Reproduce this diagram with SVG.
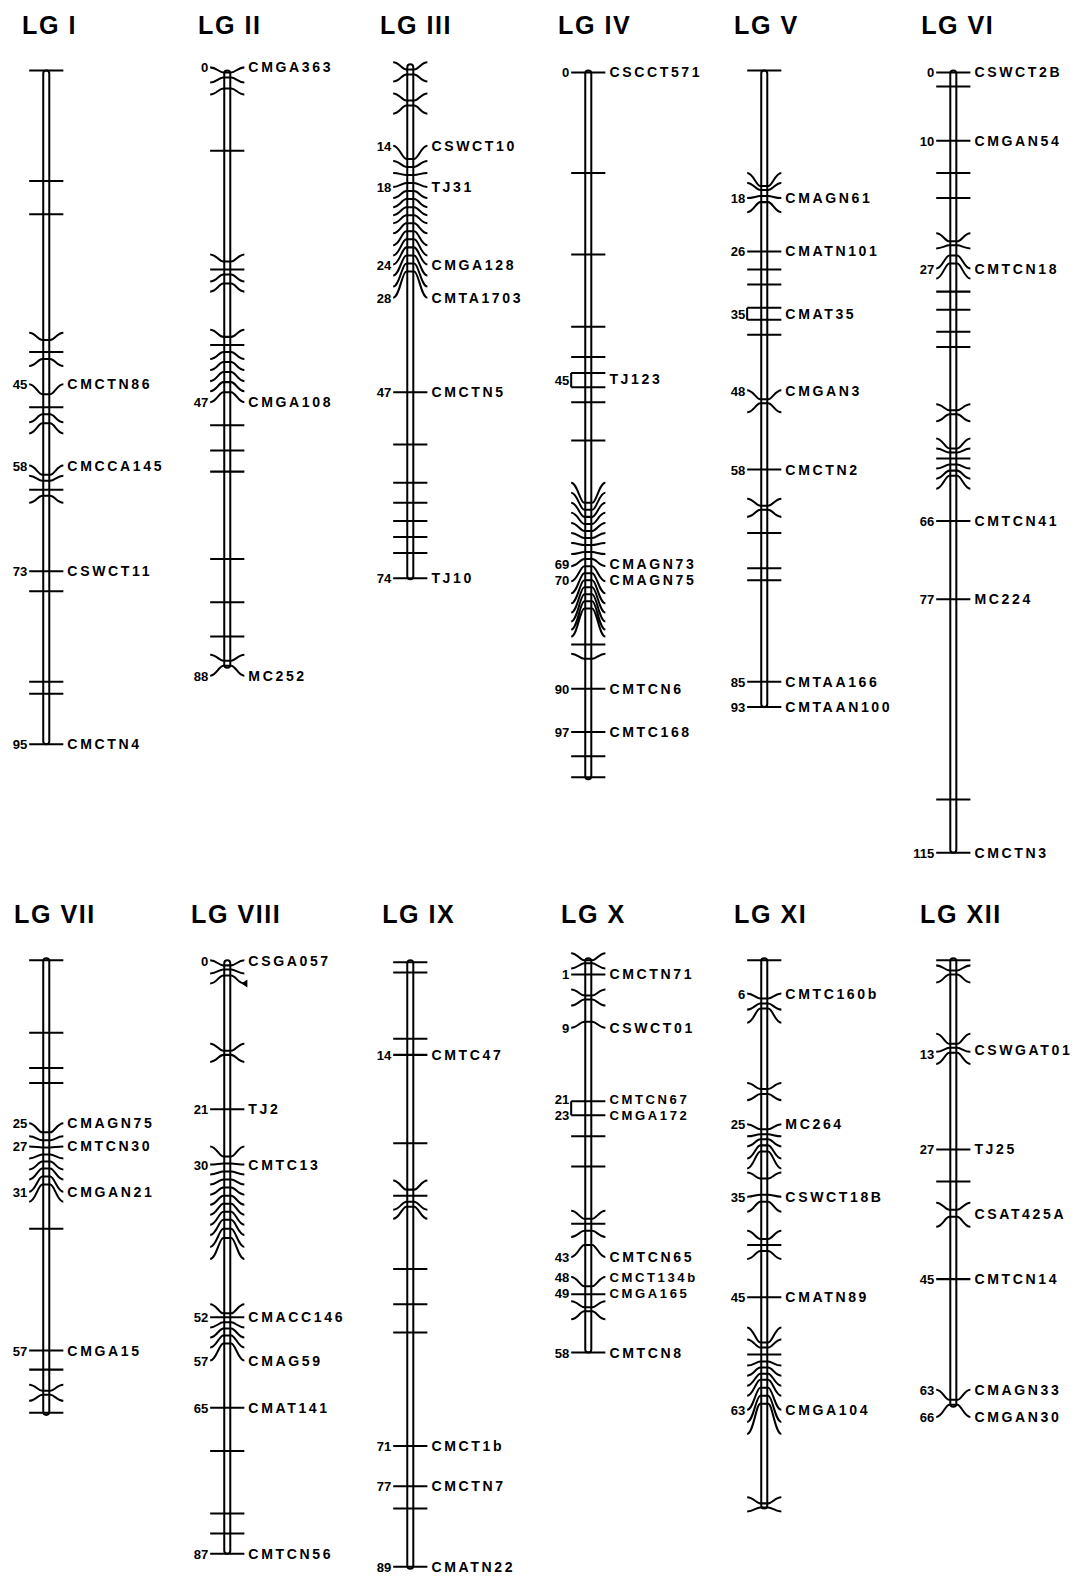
<svg xmlns="http://www.w3.org/2000/svg" width="1077" height="1577" viewBox="0 0 1077 1577">
<style>
.bar{fill:#fff;stroke:#000;stroke-width:2}
.t{fill:none;stroke:#000;stroke-width:2}
.n{font-family:"Liberation Sans",Arial,sans-serif;font-weight:bold;font-size:14px;letter-spacing:2.6px;fill:#000}
.s{font-size:13px}
.c{font-family:"Liberation Sans",Arial,sans-serif;font-weight:bold;font-size:13px;text-anchor:end;fill:#000}
.h{font-family:"Liberation Sans",Arial,sans-serif;font-weight:bold;font-size:25px;letter-spacing:1.5px;fill:#000}
</style>
<rect width="1077" height="1577" fill="#fff"/>
<g transform="scale(1.0056)">
<g id="titles">
<text class="h" x="22" y="34">LG I</text>
<text class="h" x="197" y="34">LG II</text>
<text class="h" x="378" y="34">LG III</text>
<text class="h" x="555" y="34">LG IV</text>
<text class="h" x="730" y="34">LG V</text>
<text class="h" x="916" y="34">LG VI</text>
<text class="h" x="14" y="918">LG VII</text>
<text class="h" x="190" y="918">LG VIII</text>
<text class="h" x="380" y="918">LG IX</text>
<text class="h" x="558" y="918">LG X</text>
<text class="h" x="730" y="918">LG XI</text>
<text class="h" x="915" y="918">LG XII</text>
</g>

<g id="lg1" transform="translate(46,0)">
<rect class="bar" x="-3" y="70" width="6" height="670" rx="3"/>
<path class="t" d="M-17 70H17M-17 180H17M-17 213H17
M-17 331C-11 331 -8 338 -4 338H4C8 338 11 331 17 331M-17 350H17
M-17 364C-11 364 -8 357 -4 357H4C8 357 11 364 17 364
M-17 382C-11 382 -8 392 -4 392H4C8 392 11 382 17 382M-17 405H17
M-17 420C-11 420 -8 412 -4 412H4C8 412 11 420 17 420
M-17 431C-11 431 -8 421 -4 421H4C8 421 11 431 17 431
M-17 463C-11 463 -8 472 -4 472H4C8 472 11 463 17 463
M-17 473C-11 473 -8 478 -4 478H4C8 478 11 473 17 473M-17 487H17
M-17 500C-11 500 -8 493 -4 493H4C8 493 11 500 17 500
M-17 568H17M-17 588H17M-17 678H17M-17 690H17M-17 740H17"/>
<text class="c" x="-19" y="387">45</text><text class="n" x="21" y="387">CMCTN86</text>
<text class="c" x="-19" y="468">58</text><text class="n" x="21" y="468">CMCCA145</text>
<text class="c" x="-19" y="573">73</text><text class="n" x="21" y="573">CSWCT11</text>
<text class="c" x="-19" y="745">95</text><text class="n" x="21" y="745">CMCTN4</text>
</g>

<g id="lg2" transform="translate(226,0)">
<rect class="bar" x="-3" y="70" width="6" height="594" rx="3"/>
<path class="t" d="M-17 67C-11 67 -8 72 -4 72H4C8 72 11 67 17 67
M-17 82C-11 82 -8 77 -4 77H4C8 77 11 82 17 82
M-17 94C-11 94 -8 88 -4 88H4C8 88 11 94 17 94M-17 150H17
M-17 253C-11 253 -8 260 -4 260H4C8 260 11 253 17 253M-17 268H17
M-17 280C-11 280 -8 273 -4 273H4C8 273 11 280 17 280
M-17 290C-11 290 -8 282 -4 282H4C8 282 11 290 17 290
M-17 328C-11 328 -8 335 -4 335H4C8 335 11 328 17 328M-17 343H17
M-17 357C-11 357 -8 350 -4 350H4C8 350 11 357 17 357
M-17 368C-11 368 -8 360 -4 360H4C8 360 11 368 17 368
M-17 379C-11 379 -8 370 -4 370H4C8 370 11 379 17 379
M-17 389C-11 389 -8 380 -4 380H4C8 380 11 389 17 389
M-17 400C-11 400 -8 390 -4 390H4C8 390 11 400 17 400
M-17 423H17M-17 448H17M-17 469H17M-17 556H17M-17 599H17M-17 633H17
M-17 651C-11 651 -8 657 -4 657H4C8 657 11 651 17 651
M-17 672C-11 672 -8 662 -4 662H4C8 662 11 672 17 672"/>
<text class="c" x="-19" y="72">0</text><text class="n" x="21" y="72">CMGA363</text>
<text class="c" x="-19" y="405">47</text><text class="n" x="21" y="405">CMGA108</text>
<text class="c" x="-19" y="677">88</text><text class="n" x="21" y="677">MC252</text>
</g>

<g id="lg3" transform="translate(408,0)">
<rect class="bar" x="-3" y="64" width="6" height="512" rx="3"/>
<path class="t" d="M-17 62C-11 62 -8 69 -4 69H4C8 69 11 62 17 62
M-17 81C-11 81 -8 74 -4 74H4C8 74 11 81 17 81
M-17 93C-11 93 -8 100 -4 100H4C8 100 11 93 17 93
M-17 113C-11 113 -8 105 -4 105H4C8 105 11 113 17 113
M-17 145C-11 145 -8 158 -4 158H4C8 158 11 145 17 145
M-17 160C-11 160 -8 166 -4 166H4C8 166 11 160 17 160
M-17 172C-11 172 -8 174 -4 174H4C8 174 11 172 17 172
M-17 186C-11 186 -8 182 -4 182H4C8 182 11 186 17 186
M-17 197C-11 197 -8 190 -4 190H4C8 190 11 197 17 197
M-17 206C-11 206 -8 198 -4 198H4C8 198 11 206 17 206
M-17 214C-11 214 -8 206 -4 206H4C8 206 11 214 17 214
M-17 222C-11 222 -8 214 -4 214H4C8 214 11 222 17 222
M-17 232C-11 232 -8 222 -4 222H4C8 222 11 232 17 232
M-17 244C-11 244 -8 230 -4 230H4C8 230 11 244 17 244
M-17 254C-11 254 -8 238 -4 238H4C8 238 11 254 17 254
M-17 263C-11 263 -8 246 -4 246H4C8 246 11 263 17 263
M-17 274C-11 274 -8 254 -4 254H4C8 254 11 274 17 274
M-17 285C-11 285 -8 262 -4 262H4C8 262 11 285 17 285
M-17 296C-11 296 -8 270 -4 270H4C8 270 11 296 17 296
M-17 390H17M-17 442H17M-17 480H17M-17 500H17M-17 518H17M-17 534H17M-17 550H17M-17 575H17"/>
<text class="c" x="-19" y="150">14</text><text class="n" x="21" y="150">CSWCT10</text>
<text class="c" x="-19" y="191">18</text><text class="n" x="21" y="191">TJ31</text>
<text class="c" x="-19" y="268">24</text><text class="n" x="21" y="268">CMGA128</text>
<text class="c" x="-19" y="301">28</text><text class="n" x="21" y="301">CMTA1703</text>
<text class="c" x="-19" y="395">47</text><text class="n" x="21" y="395">CMCTN5</text>
<text class="c" x="-19" y="580">74</text><text class="n" x="21" y="580">TJ10</text>
</g>

<g id="lg4" transform="translate(585,0)">
<rect class="bar" x="-3" y="70" width="6" height="705" rx="3"/>
<path class="t" d="M-17 72H17M-17 172H17M-17 253H17M-17 325H17M-17 355H17
M-17 371H17M-17 385H17M-17 371V385M-17 400H17M-17 438H17
M-17 480C-11 480 -8 500 -4 500H4C8 500 11 480 17 480
M-17 490C-11 490 -8 507 -4 507H4C8 507 11 490 17 490
M-17 500C-11 500 -8 514 -4 514H4C8 514 11 500 17 500
M-17 510C-11 510 -8 521 -4 521H4C8 521 11 510 17 510
M-17 520C-11 520 -8 528 -4 528H4C8 528 11 520 17 520
M-17 530C-11 530 -8 535 -4 535H4C8 535 11 530 17 530
M-17 540C-11 540 -8 542 -4 542H4C8 542 11 540 17 540
M-17 551C-11 551 -8 549 -4 549H4C8 549 11 551 17 551
M-17 563C-11 563 -8 556 -4 556H4C8 556 11 563 17 563
M-17 578C-11 578 -8 563 -4 563H4C8 563 11 578 17 578
M-17 590C-11 590 -8 570 -4 570H4C8 570 11 590 17 590
M-17 600C-11 600 -8 577 -4 577H4C8 577 11 600 17 600
M-17 609C-11 609 -8 584 -4 584H4C8 584 11 609 17 609
M-17 618C-11 618 -8 591 -4 591H4C8 591 11 618 17 618
M-17 626C-11 626 -8 598 -4 598H4C8 598 11 626 17 626
M-17 633C-11 633 -8 605 -4 605H4C8 605 11 633 17 633
M-17 641H17M-17 650C-11 650 -8 655 -4 655H4C8 655 11 650 17 650
M-17 685H17M-17 728H17M-17 752H17M-17 773H17"/>
<text class="c" x="-19" y="77">0</text><text class="n" x="21" y="77">CSCCT571</text>
<text class="c" x="-19" y="383">45</text><text class="n" x="21" y="382">TJ123</text>
<text class="c" x="-19" y="566">69</text><text class="n" x="21" y="566">CMAGN73</text>
<text class="c" x="-19" y="582">70</text><text class="n" x="21" y="582">CMAGN75</text>
<text class="c" x="-19" y="690">90</text><text class="n" x="21" y="690">CMTCN6</text>
<text class="c" x="-19" y="733">97</text><text class="n" x="21" y="733">CMTC168</text>
</g>

<g id="lg5" transform="translate(760,0)">
<rect class="bar" x="-3" y="70" width="6" height="633" rx="3"/>
<path class="t" d="M-17 70H17
M-17 172C-11 172 -8 185 -4 185H4C8 185 11 172 17 172
M-17 182C-11 182 -8 189 -4 189H4C8 189 11 182 17 182
M-17 197C-11 197 -8 195 -4 195H4C8 195 11 197 17 197
M-17 211C-11 211 -8 201 -4 201H4C8 201 11 211 17 211
M-17 250H17M-17 268H17M-17 283H17M-17 306H17M-17 318H17M-17 306V318M-17 333H17
M-17 388C-11 388 -8 397 -4 397H4C8 397 11 388 17 388
M-17 410C-11 410 -8 401 -4 401H4C8 401 11 410 17 410
M-17 467H17
M-17 496C-11 496 -8 503 -4 503H4C8 503 11 496 17 496
M-17 514C-11 514 -8 507 -4 507H4C8 507 11 514 17 514
M-17 530H17M-17 565H17M-17 577H17M-17 678H17M-17 703H17"/>
<text class="c" x="-19" y="202">18</text><text class="n" x="21" y="202">CMAGN61</text>
<text class="c" x="-19" y="255">26</text><text class="n" x="21" y="255">CMATN101</text>
<text class="c" x="-19" y="317">35</text><text class="n" x="21" y="317">CMAT35</text>
<text class="c" x="-19" y="394">48</text><text class="n" x="21" y="394">CMGAN3</text>
<text class="c" x="-19" y="472">58</text><text class="n" x="21" y="472">CMCTN2</text>
<text class="c" x="-19" y="683">85</text><text class="n" x="21" y="683">CMTAA166</text>
<text class="c" x="-19" y="708">93</text><text class="n" x="21" y="708">CMTAAN100</text>
</g>

<g id="lg6" transform="translate(948,0)">
<rect class="bar" x="-3" y="70" width="6" height="778" rx="3"/>
<path class="t" d="M-17 72H17M-17 86H17M-17 140H17M-17 172H17M-17 197H17
M-17 232C-11 232 -8 240 -4 240H4C8 240 11 232 17 232
M-17 247C-11 247 -8 244 -4 244H4C8 244 11 247 17 247
M-17 267C-11 267 -8 254 -4 254H4C8 254 11 267 17 267
M-17 277C-11 277 -8 262 -4 262H4C8 262 11 277 17 277
M-17 290H17M-17 308H17M-17 330H17M-17 345H17
M-17 402C-11 402 -8 408 -4 408H4C8 408 11 402 17 402
M-17 419C-11 419 -8 412 -4 412H4C8 412 11 419 17 419
M-17 436C-11 436 -8 446 -4 446H4C8 446 11 436 17 436
M-17 446C-11 446 -8 450 -4 450H4C8 450 11 446 17 446M-17 456H17
M-17 466C-11 466 -8 462 -4 462H4C8 462 11 466 17 466
M-17 476C-11 476 -8 468 -4 468H4C8 468 11 476 17 476
M-17 486C-11 486 -8 473 -4 473H4C8 473 11 486 17 486
M-17 518H17M-17 596H17M-17 795H17M-17 848H17"/>
<text class="c" x="-19" y="77">0</text><text class="n" x="21" y="77">CSWCT2B</text>
<text class="c" x="-19" y="145">10</text><text class="n" x="21" y="145">CMGAN54</text>
<text class="c" x="-19" y="272">27</text><text class="n" x="21" y="272">CMTCN18</text>
<text class="c" x="-19" y="523">66</text><text class="n" x="21" y="523">CMTCN41</text>
<text class="c" x="-19" y="601">77</text><text class="n" x="21" y="601">MC224</text>
<text class="c" x="-19" y="853">115</text><text class="n" x="21" y="853">CMCTN3</text>
</g>

<g id="lg7" transform="translate(46,0)">
<rect class="bar" x="-3" y="953" width="6" height="454" rx="3"/>
<path class="t" d="M-17 955H17M-17 1027H17M-17 1062H17M-17 1077H17
M-17 1117C-11 1117 -8 1126 -4 1126H4C8 1126 11 1117 17 1117
M-17 1130C-11 1130 -8 1134 -4 1134H4C8 1134 11 1130 17 1130
M-17 1140C-11 1140 -8 1141 -4 1141H4C8 1141 11 1140 17 1140
M-17 1152C-11 1152 -8 1148 -4 1148H4C8 1148 11 1152 17 1152
M-17 1163C-11 1163 -8 1155 -4 1155H4C8 1155 11 1163 17 1163
M-17 1173C-11 1173 -8 1162 -4 1162H4C8 1162 11 1173 17 1173
M-17 1185C-11 1185 -8 1170 -4 1170H4C8 1170 11 1185 17 1185
M-17 1195C-11 1195 -8 1178 -4 1178H4C8 1178 11 1195 17 1195
M-17 1222H17M-17 1343H17M-17 1362H17
M-17 1377C-11 1377 -8 1383 -4 1383H4C8 1383 11 1377 17 1377
M-17 1393C-11 1393 -8 1387 -4 1387H4C8 1387 11 1393 17 1393M-17 1405H17"/>
<text class="c" x="-19" y="1122">25</text><text class="n" x="21" y="1122">CMAGN75</text>
<text class="c" x="-19" y="1145">27</text><text class="n" x="21" y="1145">CMTCN30</text>
<text class="c" x="-19" y="1190">31</text><text class="n" x="21" y="1190">CMGAN21</text>
<text class="c" x="-19" y="1348">57</text><text class="n" x="21" y="1348">CMGA15</text>
</g>

<g id="lg8" transform="translate(226,0)">
<rect class="bar" x="-3" y="955" width="6" height="590" rx="3"/>
<path class="t" d="M-17 955C-11 955 -8 960 -4 960H4C8 960 11 955 17 955
M-17 968C-11 968 -8 964 -4 964H4C8 964 11 968 17 968
M-17 978C-11 978 -8 970 -4 970H4C8 970 11 978 17 978
M-17 1038C-11 1038 -8 1045 -4 1045H4C8 1045 11 1038 17 1038
M-17 1056C-11 1056 -8 1049 -4 1049H4C8 1049 11 1056 17 1056
M-17 1103H17
M-17 1140C-11 1140 -8 1150 -4 1150H4C8 1150 11 1140 17 1140
M-17 1158C-11 1158 -8 1157 -4 1157H4C8 1157 11 1158 17 1158
M-17 1168C-11 1168 -8 1165 -4 1165H4C8 1165 11 1168 17 1168
M-17 1178C-11 1178 -8 1173 -4 1173H4C8 1173 11 1178 17 1178
M-17 1188C-11 1188 -8 1181 -4 1181H4C8 1181 11 1188 17 1188
M-17 1198C-11 1198 -8 1189 -4 1189H4C8 1189 11 1198 17 1198
M-17 1208C-11 1208 -8 1197 -4 1197H4C8 1197 11 1208 17 1208
M-17 1218C-11 1218 -8 1205 -4 1205H4C8 1205 11 1218 17 1218
M-17 1228C-11 1228 -8 1213 -4 1213H4C8 1213 11 1228 17 1228
M-17 1240C-11 1240 -8 1222 -4 1222H4C8 1222 11 1240 17 1240
M-17 1252C-11 1252 -8 1231 -4 1231H4C8 1231 11 1252 17 1252
M-17 1297C-11 1297 -8 1306 -4 1306H4C8 1306 11 1297 17 1297
M-17 1310H17
M-17 1320C-11 1320 -8 1315 -4 1315H4C8 1315 11 1320 17 1320
M-17 1330C-11 1330 -8 1321 -4 1321H4C8 1321 11 1330 17 1330
M-17 1340C-11 1340 -8 1328 -4 1328H4C8 1328 11 1340 17 1340
M-17 1353C-11 1353 -8 1336 -4 1336H4C8 1336 11 1353 17 1353
M-17 1400H17M-17 1443H17M-17 1505H17M-17 1525H17M-17 1545H17"/>
<polygon points="14,978 20,974 20,982" fill="#000"/>
<text class="c" x="-19" y="961">0</text><text class="n" x="21" y="961">CSGA057</text>
<text class="c" x="-19" y="1108">21</text><text class="n" x="21" y="1108">TJ2</text>
<text class="c" x="-19" y="1163">30</text><text class="n" x="21" y="1163">CMTC13</text>
<text class="c" x="-19" y="1315">52</text><text class="n" x="21" y="1315">CMACC146</text>
<text class="c" x="-19" y="1358">57</text><text class="n" x="21" y="1358">CMAG59</text>
<text class="c" x="-19" y="1405">65</text><text class="n" x="21" y="1405">CMAT141</text>
<text class="c" x="-19" y="1550">87</text><text class="n" x="21" y="1550">CMTCN56</text>
</g>

<g id="lg9" transform="translate(408,0)">
<rect class="bar" x="-3" y="955" width="6" height="605" rx="3"/>
<path class="t" d="M-17 957H17M-17 967H17M-17 1033H17M-17 1049H17M-17 1137H17
M-17 1174C-11 1174 -8 1183 -4 1183H4C8 1183 11 1174 17 1174M-17 1189H17
M-17 1203C-11 1203 -8 1195 -4 1195H4C8 1195 11 1203 17 1203
M-17 1212C-11 1212 -8 1200 -4 1200H4C8 1200 11 1212 17 1212
M-17 1262H17M-17 1297H17M-17 1325H17M-17 1438H17M-17 1478H17M-17 1500H17M-17 1558H17"/>
<text class="c" x="-19" y="1054">14</text><text class="n" x="21" y="1054">CMTC47</text>
<text class="c" x="-19" y="1443">71</text><text class="n" x="21" y="1443">CMCT1b</text>
<text class="c" x="-19" y="1483">77</text><text class="n" x="21" y="1483">CMCTN7</text>
<text class="c" x="-19" y="1563">89</text><text class="n" x="21" y="1563">CMATN22</text>
</g>

<g id="lg10" transform="translate(585,0)">
<rect class="bar" x="-3" y="953" width="6" height="392" rx="3"/>
<path class="t" d="M-17 948C-11 948 -8 955 -4 955H4C8 955 11 948 17 948
M-17 963C-11 963 -8 958 -4 958H4C8 958 11 963 17 963M-17 969H17
M-17 984C-11 984 -8 990 -4 990H4C8 990 11 984 17 984
M-17 1000C-11 1000 -8 994 -4 994H4C8 994 11 1000 17 1000
M-17 1022C-11 1022 -8 1016 -4 1016H4C8 1016 11 1022 17 1022
M-17 1095H17M-17 1109H17M-17 1095V1109M-17 1130H17M-17 1160H17
M-17 1204C-11 1204 -8 1212 -4 1212H4C8 1212 11 1204 17 1204M-17 1217H17
M-17 1230C-11 1230 -8 1224 -4 1224H4C8 1224 11 1230 17 1230
M-17 1250C-11 1250 -8 1238 -4 1238H4C8 1238 11 1250 17 1250
M-17 1270C-11 1270 -8 1279 -4 1279H4C8 1279 11 1270 17 1270M-17 1287H17
M-17 1294C-11 1294 -8 1300 -4 1300H4C8 1300 11 1294 17 1294
M-17 1312C-11 1312 -8 1304 -4 1304H4C8 1304 11 1312 17 1312M-17 1345H17"/>
<text class="c" x="-19" y="974">1</text><text class="n" x="21" y="974">CMCTN71</text>
<text class="c" x="-19" y="1027">9</text><text class="n" x="21" y="1027">CSWCT01</text>
<text class="c s" x="-19" y="1098">21</text><text class="n s" x="21" y="1098">CMTCN67</text>
<text class="c s" x="-19" y="1114">23</text><text class="n s" x="21" y="1114">CMGA172</text>
<text class="c" x="-19" y="1255">43</text><text class="n" x="21" y="1255">CMTCN65</text>
<text class="c s" x="-19" y="1275">48</text><text class="n s" x="21" y="1275">CMCT134b</text>
<text class="c s" x="-19" y="1291">49</text><text class="n s" x="21" y="1291">CMGA165</text>
<text class="c" x="-19" y="1350">58</text><text class="n" x="21" y="1350">CMTCN8</text>
</g>

<g id="lg11" transform="translate(760,0)">
<rect class="bar" x="-3" y="953" width="6" height="547" rx="3"/>
<path class="t" d="M-17 955H17
M-17 988C-11 988 -8 993 -4 993H4C8 993 11 988 17 988
M-17 1004C-11 1004 -8 998 -4 998H4C8 998 11 1004 17 1004
M-17 1017C-11 1017 -8 1003 -4 1003H4C8 1003 11 1017 17 1017
M-17 1077C-11 1077 -8 1083 -4 1083H4C8 1083 11 1077 17 1077
M-17 1094C-11 1094 -8 1088 -4 1088H4C8 1088 11 1094 17 1094
M-17 1118C-11 1118 -8 1123 -4 1123H4C8 1123 11 1118 17 1118
M-17 1130C-11 1130 -8 1128 -4 1128H4C8 1128 11 1130 17 1130
M-17 1140C-11 1140 -8 1133 -4 1133H4C8 1133 11 1140 17 1140
M-17 1152C-11 1152 -8 1139 -4 1139H4C8 1139 11 1152 17 1152
M-17 1162C-11 1162 -8 1145 -4 1145H4C8 1145 11 1162 17 1162
M-17 1166C-11 1166 -8 1172 -4 1172H4C8 1172 11 1166 17 1166
M-17 1190C-11 1190 -8 1188 -4 1188H4C8 1188 11 1190 17 1190
M-17 1205C-11 1205 -8 1195 -4 1195H4C8 1195 11 1205 17 1205
M-17 1224C-11 1224 -8 1232 -4 1232H4C8 1232 11 1224 17 1224M-17 1238H17
M-17 1252C-11 1252 -8 1244 -4 1244H4C8 1244 11 1252 17 1252
M-17 1290H17
M-17 1320C-11 1320 -8 1335 -4 1335H4C8 1335 11 1320 17 1320
M-17 1332C-11 1332 -8 1340 -4 1340H4C8 1340 11 1332 17 1332M-17 1347H17
M-17 1358C-11 1358 -8 1354 -4 1354H4C8 1354 11 1358 17 1358
M-17 1368C-11 1368 -8 1360 -4 1360H4C8 1360 11 1368 17 1368
M-17 1378C-11 1378 -8 1366 -4 1366H4C8 1366 11 1378 17 1378
M-17 1388C-11 1388 -8 1372 -4 1372H4C8 1372 11 1388 17 1388
M-17 1402C-11 1402 -8 1380 -4 1380H4C8 1380 11 1402 17 1402
M-17 1414C-11 1414 -8 1388 -4 1388H4C8 1388 11 1414 17 1414
M-17 1426C-11 1426 -8 1396 -4 1396H4C8 1396 11 1426 17 1426
M-17 1489C-11 1489 -8 1495 -4 1495H4C8 1495 11 1489 17 1489
M-17 1503C-11 1503 -8 1499 -4 1499H4C8 1499 11 1503 17 1503"/>
<text class="c" x="-19" y="993">6</text><text class="n" x="21" y="993">CMTC160b</text>
<text class="c" x="-19" y="1123">25</text><text class="n" x="21" y="1123">MC264</text>
<text class="c" x="-19" y="1195">35</text><text class="n" x="21" y="1195">CSWCT18B</text>
<text class="c" x="-19" y="1295">45</text><text class="n" x="21" y="1295">CMATN89</text>
<text class="c" x="-19" y="1407">63</text><text class="n" x="21" y="1407">CMGA104</text>
</g>

<g id="lg12" transform="translate(948,0)">
<rect class="bar" x="-3" y="953" width="6" height="446" rx="3"/>
<path class="t" d="M-17 955H17
M-17 960C-11 960 -8 965 -4 965H4C8 965 11 960 17 960
M-17 977C-11 977 -8 969 -4 969H4C8 969 11 977 17 977
M-17 1028C-11 1028 -8 1038 -4 1038H4C8 1038 11 1028 17 1028
M-17 1046C-11 1046 -8 1042 -4 1042H4C8 1042 11 1046 17 1046
M-17 1058C-11 1058 -8 1047 -4 1047H4C8 1047 11 1058 17 1058
M-17 1143H17M-17 1175H17
M-17 1196C-11 1196 -8 1203 -4 1203H4C8 1203 11 1196 17 1196
M-17 1220C-11 1220 -8 1210 -4 1210H4C8 1210 11 1220 17 1220
M-17 1272H17
M-17 1382C-11 1382 -8 1392 -4 1392H4C8 1392 11 1382 17 1382
M-17 1409C-11 1409 -8 1397 -4 1397H4C8 1397 11 1409 17 1409"/>
<text class="c" x="-19" y="1053">13</text><text class="n" x="21" y="1049">CSWGAT01</text>
<text class="c" x="-19" y="1148">27</text><text class="n" x="21" y="1148">TJ25</text>
<text class="n" x="21" y="1212">CSAT425A</text>
<text class="c" x="-19" y="1277">45</text><text class="n" x="21" y="1277">CMTCN14</text>
<text class="c" x="-19" y="1387">63</text><text class="n" x="21" y="1387">CMAGN33</text>
<text class="c" x="-19" y="1414">66</text><text class="n" x="21" y="1414">CMGAN30</text>
</g>
</g>
</svg>
